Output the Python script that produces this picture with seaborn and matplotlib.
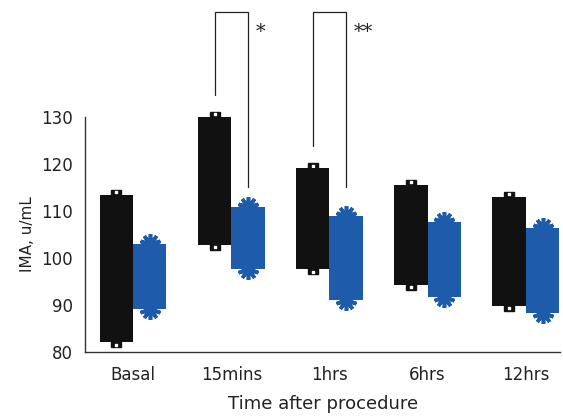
import matplotlib
matplotlib.use("Agg")
import matplotlib.pyplot as plt
import seaborn as sns
import pandas as pd

categories = ["Basal", "15mins", "1hrs", "6hrs", "12hrs"]
groups = ["A", "B"]
a_low = [82.1, 102.8, 97.6, 94.3, 89.8]
a_high = [113.4, 130.0, 119.1, 115.5, 113.0]
b_low = [89.1, 97.6, 91.0, 91.7, 88.3]
b_high = [103.0, 110.9, 108.9, 107.7, 106.4]
y_ticks = [80, 90, 100, 110, 120, 130]

BLACK = "#111111"
BLUE = "#1e5cab"

sns.set_style("white")
plt.rcParams['font.family'] = ['DejaVu Sans']

df = pd.DataFrame({
    "time": categories * 2,
    "group": ["A"] * 5 + ["B"] * 5,
    "high": a_high + b_high,
})

fig = plt.figure(figsize=(5.63, 4.19), dpi=100)
ax = fig.add_axes([0.151, 0.160, 0.844, 0.561])

sns.barplot(data=df, x="time", y="high", hue="group", order=categories,
            hue_order=groups, palette=[BLACK, BLUE], width=0.68, gap=0,
            legend=False, ax=ax, saturation=1, errorbar=None)

lows = [a_low, b_low]
highs = [a_high, b_high]
for gi, cont in enumerate(ax.containers):
    for i, p in enumerate(cont.patches):
        lo, hi = lows[gi][i], highs[gi][i]
        p.set_y(lo)
        p.set_height(hi - lo)
        p.set_edgecolor("none")
        p.set_zorder(5)
        xc = p.get_x() + p.get_width() / 2
        if gi == 0:
            for yv, sgn in ((hi, 1), (lo, -1)):
                ax.plot([xc], [yv], marker="s", color=BLACK, markersize=7,
                        zorder=2, clip_on=False)
                ax.plot([xc], [yv + sgn * 0.55], marker="s", color="white",
                        markersize=1.8, zorder=2.5, clip_on=False)
        else:
            for yv in (hi, lo):
                ax.plot([xc], [yv], marker=(10, 2, 0), color=BLUE,
                        markersize=15, markeredgewidth=2.6, zorder=2,
                        clip_on=False)

# significance brackets
bars_a = ax.containers[0].patches
bars_b = ax.containers[1].patches
def cx(p):
    return p.get_x() + p.get_width() / 2

top_y = 152.3
brackets = [
    (cx(bars_a[1]), 134.7, cx(bars_b[1]), 115.1, "*"),
    (cx(bars_a[2]), 123.8, cx(bars_b[2]), 115.1, "**"),
]
for x1, y1, x2, y2, label in brackets:
    ax.plot([x1, x1, x2, x2], [y1, top_y, top_y, y2], color="#222222",
            lw=0.9, clip_on=False, zorder=4)
    ax.text(x2 + 0.08, top_y - 2.3, label, ha="left", va="top",
            fontsize=14, family=["DejaVu Serif"], color="#222222")

ax.set_ylim(80, 130)
ax.set_xlim(-0.49, 4.35)
ax.set_yticks(y_ticks)
ax.set_yticklabels([str(t) for t in y_ticks])
ax.tick_params(axis="both", length=0, labelsize=12, colors="#222222")
ax.tick_params(axis="x", pad=10)
ax.tick_params(axis="y", pad=9)
for s in ("top", "right"):
    ax.spines[s].set_visible(False)
for s in ("left", "bottom"):
    ax.spines[s].set_color("#333333")
    ax.spines[s].set_linewidth(1.0)
ax.set_xlabel("Time after procedure", fontsize=13, color="#222222", labelpad=8)
ax.set_ylabel("IMA, u/mL", fontsize=11, color="#222222", labelpad=4)

fig.savefig("out.png", dpi=100)
